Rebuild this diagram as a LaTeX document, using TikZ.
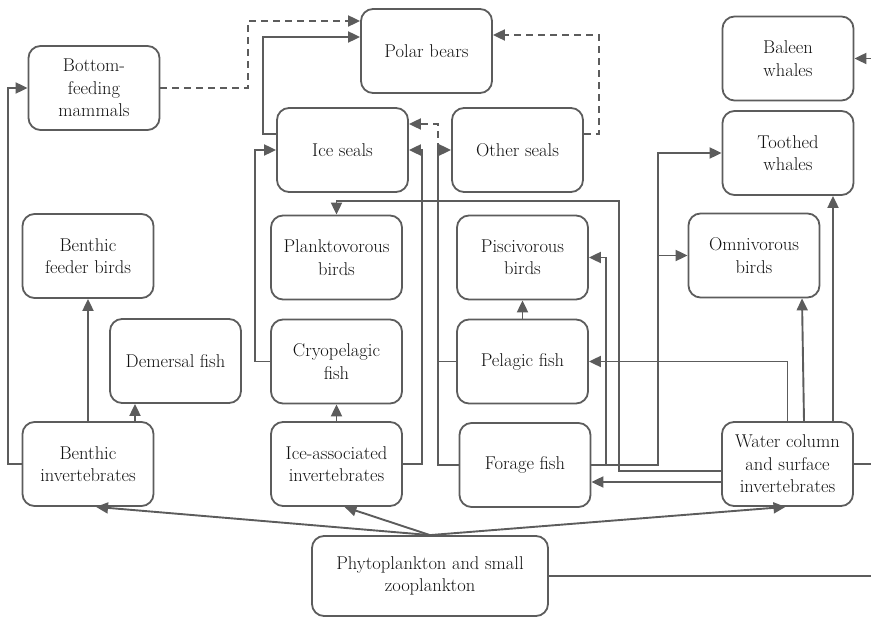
\documentclass[tikz,border=0pt]{standalone}
\usepackage{fontspec}
\usetikzlibrary{arrows.meta,calc}
\definecolor{edge}{HTML}{5C5C5C}
\definecolor{ink}{HTML}{111111}
\begin{document}
\begin{tikzpicture}[x=1pt,y=-1pt,
  box/.style={draw=edge,line width=1.8pt,rounded corners=12pt,
    minimum width=131pt,minimum height=84pt,inner sep=2pt,align=center,
    text=ink,font=\rmfamily\fontsize{18.5}{22.5}\selectfont},
  link/.style={draw=edge,line width=1.9pt},
  arr/.style={link,-{Triangle[length=12pt,width=11pt]}},
  weak/.style={dash pattern=on 7pt off 5pt}]
\useasboundingbox (0,0) rectangle (871,617);

% species groups
\node[box] (polar)   at (426.5,51)  {Polar bears};
\node[box] (bfm)     at (94,88)     {Bottom-\\feeding\\mammals};
\node[box] (baleen)  at (788,58.5)  {Baleen\\whales};
\node[box] (iceseal) at (342.5,150) {Ice seals};
\node[box] (oseal)   at (517.5,150) {Other seals};
\node[box] (toothed) at (788,153)   {Toothed\\whales};
\node[box] (bfb)     at (88,256)    {Benthic\\feeder birds};
\node[box] (plankt)  at (336.5,257.5) {Planktovorous\\birds};
\node[box] (pisc)    at (522.5,257.5) {Piscivorous\\birds};
\node[box] (omni)    at (754,255.5) {Omnivorous\\birds};
\node[box] (demers)  at (175.5,361) {Demersal fish};
\node[box] (cryo)    at (336.5,361.5) {Cryopelagic\\fish};
\node[box] (pelagic) at (522.5,361.5) {Pelagic fish};
\node[box] (bi)      at (88,464)    {Benthic\\invertebrates};
\node[box] (iai)     at (336.5,464) {Ice-associated\\invertebrates};
\node[box] (forage)  at (525,465)   {Forage fish};
\node[box] (wc)      at (787.5,464) {Water column\\and surface\\invertebrates};
\node[box,minimum width=236pt,minimum height=80pt] (phyto) at (430,576)
  {Phytoplankton and small\\zooplankton};

% links leaving the drawing on the right
\coordinate (edgeR) at (871,0);
\draw[arr] (edgeR |- baleen.east) -- (baleen.east);
\draw[link] (wc.east) -- (wc.east -| edgeR);
\draw[link] (phyto.east) -- (phyto.east -| edgeR);

% primary producers
\draw[arr] (phyto.north) -- ($(bi.south)+(8,0)$);
\draw[arr] (phyto.north) -- ($(iai.south)+(8,0)$);
\draw[arr] (phyto.north) -- ($(wc.south)+(-2,0)$);

% benthic chain
\draw[arr] (bi.west) -- ++(-14,0) |- (bfm.west);
\draw[arr] (bi.north) -- (bfb.south);
\coordinate (d1) at ($(bi.north)+(47,0)$);
\draw[arr] (d1) -- (d1 |- demers.south);

% ice chain
\draw[arr] (iai.north) -- (cryo.south);
\draw[arr] (iai.east) -- ++(19,0) |- (iceseal.east);
\draw[arr] (cryo.west) -- ++(-15,0) |- (iceseal.west);
\coordinate (is1) at ($(iceseal.west)+(0,-16)$);
\draw[arr] (is1) -- ++(-13,0) |- ($(polar.west)+(0,-14)$);
\draw[arr,weak] (bfm.east) -- ++(88,0) |- ($(polar.west)+(0,-30)$);
\coordinate (os1) at ($(oseal.east)+(0,-16)$);
\draw[arr,weak] (os1) -- ++(15,0) |- ($(polar.east)+(0,-16)$);

% pelagic chain
\coordinate (j) at ($(forage.west)+(-21,0)$);
\draw[arr] (forage.west) -- (j) |- (oseal.west);
\draw[link] (pelagic.west) -- (pelagic.west -| j);
\draw[arr,weak] (j |- oseal.west) |- ($(iceseal.east)+(0,-26)$);
\draw[arr] (pelagic.north) -- (pisc.south);
\draw[arr] (forage.east) -- ++(15,0) |- (pisc.east);
\coordinate (f2) at ($(forage.east)+(67,0)$);
\draw[arr] (forage.east) -- (f2) |- (toothed.west);
\draw[arr] (f2 |- omni.west) -- (omni.west);

% water column invertebrates
\coordinate (w1) at ($(wc.west)+(0,7)$);
\coordinate (w2) at ($(plankt.north)+(0,-14)$);
\draw[arr] (w1) -- ++(-102,0) |- (w2) -- (plankt.north);
\coordinate (w4) at ($(wc.west)+(0,18)$);
\draw[arr] (w4) -- (w4 -| forage.east);
\draw[arr] (wc.north) |- (pelagic.east);
\draw[arr] ($(wc.north)+(16.5,0)$) -- ($(omni.south)+(48,0)$);
\coordinate (w5) at ($(wc.north)+(45.5,0)$);
\draw[arr] (w5) -- (w5 |- toothed.south);
\end{tikzpicture}
\end{document}
